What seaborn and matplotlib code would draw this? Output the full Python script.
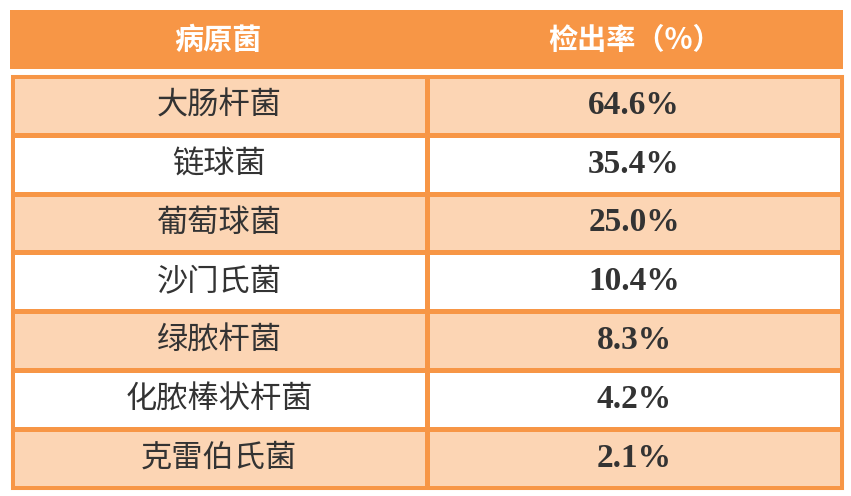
import matplotlib
matplotlib.use("Agg")
import matplotlib.pyplot as plt
import seaborn as sns
import numpy as np
from matplotlib.colors import ListedColormap
from matplotlib.patches import Rectangle

headers = ["病原菌", "检出率（%）"]
pathogens = ["大肠杆菌", "链球菌", "葡萄球菌", "沙门氏菌", "绿脓杆菌", "化脓棒状杆菌", "克雷伯氏菌"]
rates = [64.6, 35.4, 25.0, 10.4, 8.3, 4.2, 2.1]

ORANGE = "#F79646"
PEACH = "#FCD5B4"
W, H = 851, 496
fig = plt.figure(figsize=(W/100, H/100), dpi=100)

def ax_at(x0, y0, x1, y1):
    return fig.add_axes([x0/W, 1-y1/H, (x1-x0)/W, (y1-y0)/H])

# header
hax = ax_at(10, 10, 843, 69)
hax.set_facecolor(ORANGE)
hax.set_xlim(0, 2); hax.set_ylim(0, 1)
hax.set_xticks([]); hax.set_yticks([])
for s in hax.spines.values(): s.set_visible(False)
for i, h in enumerate(headers):
    hax.text(i + 0.5, 0.5, h, ha="center", va="center",
             color="white", fontsize=21, fontweight="bold", family="Noto Sans CJK SC")

# body
bax = ax_at(11.5, 76, 841.5, 487.5)
n = len(pathogens)
vals = np.array([[i % 2, i % 2] for i in range(n)])
sns.heatmap(vals, ax=bax, cmap=ListedColormap([PEACH, "white"]), vmin=0, vmax=1,
            cbar=False, linewidths=2.2, linecolor=ORANGE, annot=False,
            xticklabels=False, yticklabels=False)
for i in range(n):
    bax.text(0.5, i + 0.5, pathogens[i], ha="center", va="center", color="#333333",
             fontsize=22.5, family="Noto Sans CJK SC")
    bax.text(1.5, i + 0.5, f"{rates[i]:.1f}%", ha="center", va="center", color="#333333",
             fontsize=24, fontweight="bold", family="Liberation Serif")
bax.add_patch(Rectangle((0, 0), 2, n, fill=False, edgecolor=ORANGE, lw=2.2, clip_on=False))

fig.savefig("out.png", dpi=100, facecolor="white")
